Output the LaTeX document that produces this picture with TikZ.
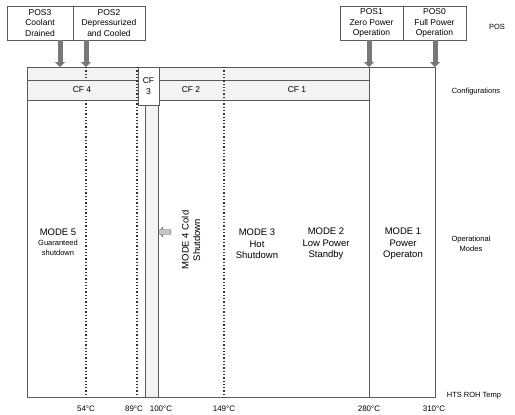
\documentclass[tikz,border=0pt]{standalone}
\usepackage{fontspec}
\setmainfont{Liberation Sans}
\usetikzlibrary{arrows.meta, positioning, shapes.arrows}
\definecolor{stripgray}{RGB}{243,243,243}
\definecolor{arrowgray}{RGB}{120,120,120}
\definecolor{linegray}{RGB}{90,90,90}

\begin{document}
\begin{tikzpicture}[
    x=1pt, y=-1pt,
    every node/.style={font=\fontsize{8.5}{10.5}\selectfont, inner sep=0pt, outer sep=0pt},
    posbox/.style={rectangle, draw=linegray, fill=white, minimum height=34pt, align=center},
    posarrow/.style={-{Triangle[length=5pt, width=10pt]}, line width=5pt, arrowgray},
    frame/.style={draw=linegray, line width=0.8pt},
    templine/.style={draw=black!80, line width=1.3pt, dash pattern=on 1.3pt off 2pt},
    modetext/.style={font=\fontsize{9.5}{11.5}\selectfont, align=center},
    sidelabel/.style={font=\fontsize{7.5}{10}\selectfont, align=center},
    templabel/.style={font=\fontsize{8}{10}\selectfont},
]
\useasboundingbox (0,0) rectangle (515,415);

% === POS boxes ===
\node[posbox, minimum width=66pt] (pos3) at (40,23) {POS3\\Coolant\\Drained};
\node[posbox, minimum width=72pt, right=0pt of pos3] (pos2) {POS2\\Depressurized\\and Cooled};
\node[posbox, minimum width=63pt] (pos1) at (371.5,23) {POS1\\Zero Power\\Operation};
\node[posbox, minimum width=63pt, right=0pt of pos1] (pos0) {POS0\\Full Power\\Operation};

% === Frame ===
\coordinate (a3) at (60,67);
\coordinate (a2) at (86,67);
\coordinate (a1) at (369,67);
\coordinate (a0) at (435,67);

\fill[stripgray] (27,67) rectangle (369,100);
\fill[stripgray] (145,105) rectangle (158,397);
\draw[frame] (27,67) -- (435,67);
\draw[frame] (27,80) -- (369,80);
\draw[frame] (27,100) -- (369,100);
\draw[frame] (27,67) -- (27,397) -- (435,397) -- (435,67);
\draw[frame] (369,67) -- (369,397);
\draw[frame] (145,105) -- (145,397);
\draw[frame] (158,105) -- (158,397);

% temperature boundaries
\draw[templine] (86,67) -- (86,80);
\draw[templine] (86,100) -- (86,397);
\draw[templine] (137,67) -- (137,397);
\draw[templine] (224,67) -- (224,397);

% arrows from POS boxes
\draw[posarrow] (pos3.south -| a3) -- (a3);
\draw[posarrow] (pos2.south -| a2) -- (a2);
\draw[posarrow] (pos1.south -| a1) -- (a1);
\draw[posarrow] (pos0.south -| a0) -- (a0);

% === Configurations ===
\node[draw=linegray, line width=0.8pt, fill=white, minimum width=21pt, minimum height=38pt, align=center] (cf3) at (148.5,86) {CF\\3};
\node (cf4) at (82,90) {CF 4};
\node (cf2) at (191,90) {CF 2};
\node (cf1) at (297,90) {CF 1};

% === Operational modes ===
\node[modetext] (mode5) at (58,242) {MODE 5\\[-1.5pt]{\fontsize{7.5}{8.5}\selectfont Guaranteed}\\[-2pt]{\fontsize{7.5}{8.5}\selectfont shutdown}};
\node[modetext, rotate=90] (mode4) at (191,240) {MODE 4 Cold\\Shutdown};
\node[single arrow, shape border rotate=180, draw=linegray, fill=gray!45, minimum height=13pt, minimum width=10pt, single arrow head extend=2pt, inner sep=1.5pt] (m4arrow) at (165.5,232) {};
\node[modetext] (mode3) at (257,244) {MODE 3\\Hot\\Shutdown};
\node[modetext] (mode2) at (326,244) {MODE 2\\Low Power\\Standby};
\node[modetext] (mode1) at (403,244) {MODE 1\\Power\\Operaton};

% === Side labels ===
\node[sidelabel] (lpos) at (497,27) {POS};
\node[sidelabel] (lcf) at (476,92) {Configurations};
\node[sidelabel] (lmode) at (471,244) {Operational\\Modes};
\node[sidelabel] (ltemp) at (474,396) {HTS ROH Temp};

% === Temperatures ===
\node[templabel] (t54) at (86,409) {54°C};
\node[templabel] (t89) at (134,409) {89°C};
\node[templabel] (t100) at (161,409) {100°C};
\node[templabel] (t149) at (224,409) {149°C};
\node[templabel] (t280) at (369,409) {280°C};
\node[templabel] (t310) at (434,409) {310°C};

\end{tikzpicture}
\end{document}
